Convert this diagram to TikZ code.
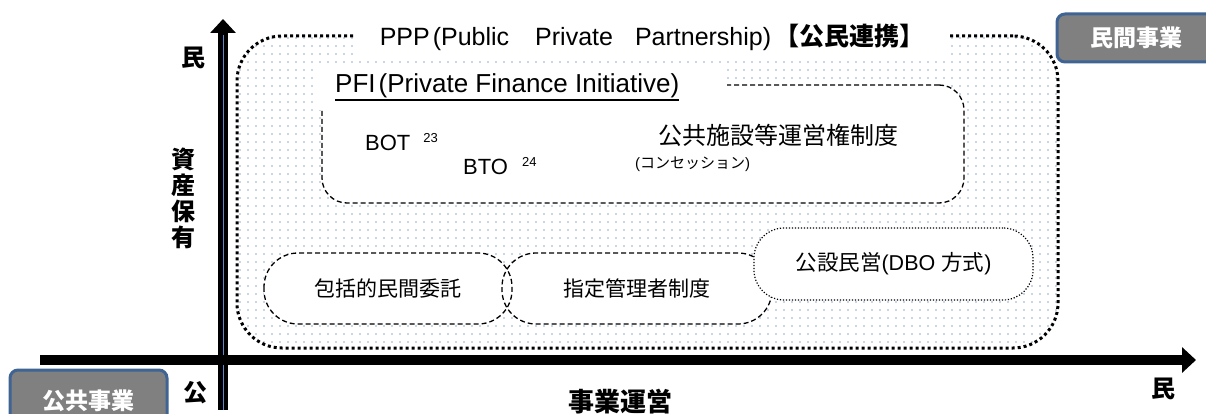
\documentclass[tikz,border=0pt]{standalone}
\usepackage{fontspec}
\setmainfont{Liberation Sans}
\newfontfamily\jp{Noto Sans CJK JP}
\usetikzlibrary{arrows.meta,patterns.meta}

\newcommand{\fsz}[1]{\fontsize{#1}{#1}\selectfont}
\definecolor{boxblue}{HTML}{3F6493}
\definecolor{boxgray}{HTML}{808080}
\definecolor{dotblue}{HTML}{93AACB}
\definecolor{axisblue}{HTML}{5B8BC9}

\begin{document}
\begin{tikzpicture}[x=1pt,y=-1pt,
    pppbox/.style={draw,line width=3pt,dash pattern=on 3pt off 3pt,rounded corners=45pt,
      pattern={Dots[distance=8pt,radius=0.9pt]},pattern color=dotblue,
      minimum width=821pt,minimum height=312pt,inner sep=0pt},
    dashline/.style={line width=1.3pt,dash pattern=on 5pt off 3pt,rounded corners=34pt},
    lowbox/.style={fill=white,rounded corners=34pt,font=\jp\fsz{21},minimum height=71pt,
      inner sep=0pt,outer sep=0pt},
    dotbox/.style={draw,fill=white,line width=1.2pt,dash pattern=on 1.2pt off 1.8pt,
      rounded corners=30pt,font=\fsz{21.5},minimum width=279pt,minimum height=72pt,inner sep=0pt},
    axis/.style={line width=10pt,-{Triangle[width=25pt,length=14pt]}},
    axlabel/.style={font=\jp\bfseries\fsz{24},inner sep=0pt},
    sidebox/.style={draw=boxblue,line width=3pt,fill=boxgray,rounded corners=8pt,text=white,
      font=\jp\bfseries\fsz{23},inner sep=0pt}]
  \useasboundingbox (0,0) rectangle (1206,414);

  % PPP area
  \node[pppbox] (ppp) at (647.5,192) {};
  \node[fill=white,inner xsep=25pt,minimum height=37pt,font=\fsz{25}] (ppptitle) at (652,37)
    {PPP\hspace{3pt}(Public\hspace{26pt}Private\hspace{22pt}Partnership)\hspace{3pt}{\jp\bfseries 【公民連携】}};

  % PFI area
  \node[draw,dashline,rounded corners=25pt,fill=white,minimum width=642pt,minimum height=118pt] (pfi) at (643,144) {};
  \fill[white] (317,68) rectangle (727,110);
  \node[anchor=base west,inner sep=0pt,font=\fsz{26}] (pfititle) at (335,93)
    {PFI\hspace{3pt}(Private Finance Initiative)};
  \draw[line width=2pt] ([yshift=-7pt]pfititle.base west) -- ([yshift=-7pt]pfititle.base east);
  \node[anchor=base west,inner sep=0pt,font=\fsz{22}] (bot) at (365,151) {BOT\hspace{13pt}\raisebox{8pt}{\fsz{13}23}};
  \node[anchor=base west,inner sep=0pt,font=\fsz{22}] (bto) at (463,175) {BTO\hspace{14pt}\raisebox{8pt}{\fsz{13}24}};
  \node[inner sep=0pt,font=\jp\fsz{24}] (concession) at (778,135) {公共施設等運営権制度};
  \node[anchor=west,inner sep=0pt,font=\fsz{15}] (kana) at (635,164) {({\jp コンセッション})};

  % lower boxes
  \node[lowbox,minimum width=248pt] (hokatsu) at (388,288.5) {包括的民間委託};
  \node[lowbox,minimum width=270pt] (shitei) at (637,288.5) {指定管理者制度};
  \draw[dashline] (hokatsu.north west) rectangle (hokatsu.south east);
  \draw[dashline] (shitei.north west) rectangle (shitei.south east);
  \node[dotbox] (dbo) at (893.5,264) {{\jp 公設民営}(DBO {\jp 方式})};

  % axes
  \coordinate (vbot) at (223,410);
  \coordinate (vtop) at (223,19);
  \coordinate (hleft) at (40,360);
  \coordinate (hright) at (1196,360);
  \draw[axis] (vbot) -- (vtop);
  \draw[axisblue,line width=1pt] (vbot) -- ([yshift=-16pt]vtop);
  \draw[axis] (hleft) -- (hright);

  % labels
  \node[axlabel] (mintop) at (193,58) {民};
  \node[axlabel,align=center,font=\jp\bfseries\fontsize{24}{26}\selectfont] (shisan) at (183,198) {資\\産\\保\\有};
  \node[axlabel] (kou) at (195,393) {公};
  \node[axlabel,font=\jp\bfseries\fsz{26}] (jigyo) at (620,402) {事業運営};
  \node[axlabel] (minright) at (1163,389) {民};
  \node[sidebox,minimum width=157pt,minimum height=62pt] (public) at (88.5,401) {公共事業};
  \node[sidebox,minimum width=158pt,minimum height=48pt] (private) at (1136,38) {民間事業};
\end{tikzpicture}
\end{document}
